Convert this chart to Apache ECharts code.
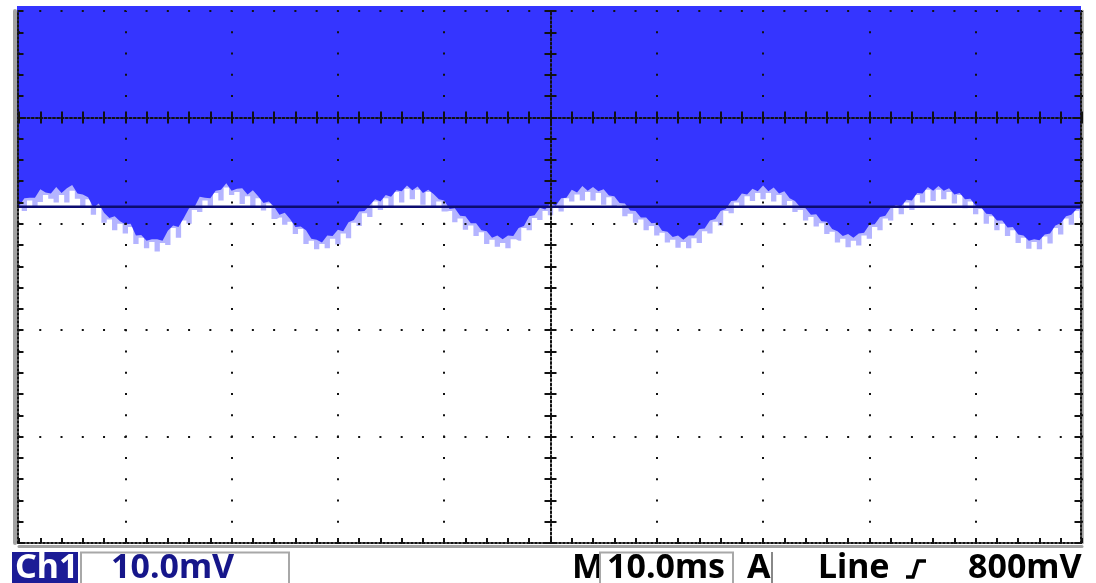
<!DOCTYPE html>
<html>
<head>
<meta charset="utf-8">
<script src="https://cdn.jsdelivr.net/npm/echarts@6/dist/echarts.min.js"></script>
<style>
  html, body { margin: 0; padding: 0; background: #ffffff; }
  #scope { width: 1096px; height: 583px; }
</style>
</head>
<body>
<div id="scope"></div>
<script>
// Acquisition time base: samples every 0.5 ms, trigger at t = 0 (screen centre)
const sampleStartMs = -50.5;
const sampleStepMs = 0.5;

// Lower edge of the dense (solid) part of the noise band, mV
const envelopeMv = [
  -8.2, -8.35, -7.6, -7.55, -7.55, -6.75, -7.05, -7.15, -6.55, -7.1,
  -6.65, -6.35, -7.15, -7.25, -7.5, -8.5, -8.1, -8.95, -9.45, -9.3,
  -9.75, -10.05, -10.0, -11.1, -11.05, -11.6, -11.45, -11.45, -11.6, -10.65,
  -10.15, -10.3, -9.45, -8.55, -8.45, -7.45, -7.55, -7.6, -6.9, -6.8,
  -6.2, -6.9, -6.7, -6.65, -7.25, -6.85, -7.4, -8.05, -7.9, -8.4,
  -9.15, -8.95, -9.55, -10.3, -10.25, -10.6, -11.4, -11.5, -11.75, -11.1,
  -11.15, -10.55, -10.7, -9.85, -9.65, -8.85, -8.8, -8.25, -7.7, -7.9,
  -7.3, -7.45, -6.85, -6.95, -6.4, -6.85, -6.5, -7.1, -6.8, -7.2,
  -7.7, -7.8, -8.6, -8.55, -9.25, -9.3, -9.95, -9.95, -10.6, -10.7,
  -11.3, -11.1, -11.45, -11.1, -11.15, -10.4, -10.2, -9.3, -9.2, -8.5,
  -8.65, -8.1, -8.3, -7.6, -7.55, -6.8, -7.05, -6.45, -6.9, -6.55,
  -6.95, -6.75, -7.35, -7.4, -8.05, -8.1, -8.75, -8.8, -9.4, -9.4,
  -9.95, -9.9, -10.65, -10.75, -11.25, -11.1, -11.5, -11.1, -11.1, -10.5,
  -10.45, -9.7, -9.55, -8.8, -8.6, -7.85, -7.8, -7.15, -7.25, -6.7,
  -6.95, -6.4, -6.95, -6.6, -7.15, -6.95, -7.6, -7.85, -8.45, -8.55,
  -9.15, -9.1, -9.75, -9.8, -10.5, -10.7, -11.15, -10.95, -11.3, -10.9,
  -10.85, -10.1, -10.05, -9.35, -9.25, -8.5, -8.25, -8.35, -7.75, -7.8,
  -7.1, -7.15, -6.55, -6.9, -6.45, -6.9, -6.65, -7.25, -7.1, -7.7,
  -7.65, -8.3, -8.45, -9.05, -9.1, -9.7, -9.7, -10.35, -10.3, -11.0,
  -11.1, -11.6, -11.45, -11.55, -11.0, -10.9, -10.15, -9.95, -9.3, -9.15,
  -8.6, -8.65, -8.4
];

// Lowest excursions of the sparse noise spikes, mV
const fuzzMv = [
  -9.0, -8.5, -8.8, -7.8, -8.5, -7.95, -7.3, -7.65, -8.0, -7.3,
  -8.0, -6.9, -7.65, -8.5, -7.7, -9.15, -8.4, -9.9, -9.6, -10.6,
  -10.0, -10.9, -10.3, -11.9, -11.3, -12.3, -11.7, -12.6, -11.8, -12.0,
  -10.4, -11.3, -9.7, -10.0, -8.7, -8.9, -7.8, -8.3, -7.1, -7.8,
  -6.6, -7.3, -7.0, -8.15, -7.4, -8.45, -7.6, -8.75, -8.1, -9.55,
  -9.4, -10.1, -9.8, -10.95, -10.5, -11.9, -11.6, -12.4, -11.9, -12.3,
  -11.4, -11.95, -10.9, -11.35, -9.9, -10.2, -9.0, -9.35, -7.9, -8.7,
  -7.6, -8.45, -7.0, -8.0, -6.7, -7.7, -6.8, -8.2, -7.0, -8.4,
  -7.9, -8.85, -8.8, -9.85, -9.5, -10.55, -10.15, -11.15, -10.8, -11.9,
  -11.5, -12.15, -11.8, -12.3, -11.45, -11.6, -10.4, -10.6, -9.45, -9.65,
  -8.8, -9.2, -8.35, -8.85, -7.6, -7.9, -7.25, -7.8, -7.0, -7.8,
  -7.1, -8.2, -7.5, -8.5, -8.25, -9.3, -9.05, -9.9, -9.6, -10.6,
  -10.2, -11.1, -10.85, -11.75, -11.5, -12.25, -11.7, -12.3, -11.35, -11.8,
  -10.7, -10.9, -9.8, -10.15, -8.8, -9.0, -8.0, -8.3, -7.4, -7.85,
  -7.1, -7.7, -7.1, -7.9, -7.3, -8.25, -7.85, -8.9, -8.7, -9.7,
  -9.35, -10.25, -9.95, -10.95, -10.75, -11.75, -11.4, -12.2, -11.6, -12.05,
  -11.1, -11.4, -10.3, -10.6, -9.5, -9.7, -8.5, -9.1, -8.0, -8.7,
  -7.3, -8.0, -6.8, -7.85, -6.8, -7.7, -7.0, -8.1, -7.3, -8.55,
  -7.9, -9.1, -8.6, -10.0, -9.3, -10.6, -10.0, -11.15, -10.6, -11.8,
  -11.3, -12.35, -11.7, -12.4, -11.2, -11.85, -10.4, -11.0, -9.5, -10.1,
  -8.8, -9.45, -8.6
];

// Average trace level across the screen, mV
const meanLevelMv = [-8.4];

// Screen extent: 10 horizontal divisions of 10 ms, 5 vertical divisions of 10 mV
const timeRangeMs = [-50, 50];
const voltRangeMv = [-40, 10];

// Readout line
const readout = {
  channel: 'Ch1',
  voltsPerDiv: '10.0mV',
  timeMark: 'M',
  timePerDiv: '10.0ms',
  acquire: 'A',
  triggerSource: 'Line',
  triggerLevel: '800mV'
};

const toPairs = (values) => values.map((v, i) => [sampleStartMs + i * sampleStepMs, v]);

const DOT = '#111111';
const FRAME = '#a2a2a2';
const READOUT_FONT = 'bold 34px "Noto Sans"';
const noLabel = { show: false };

function readoutText(x, text, fill) {
  return {
    type: 'text', x: x, y: 568,
    style: {
      text: text, font: READOUT_FONT, fill: fill,
      textAlign: 'left', textVerticalAlign: 'middle', align: 'left', verticalAlign: 'middle'
    }
  };
}

const chart = echarts.init(document.getElementById('scope'), null, { renderer: 'canvas' });

chart.setOption({
  animation: false,
  backgroundColor: '#ffffff',
  grid: [
    // trace area (reaches the bezel)
    { left: 17, right: 15, top: 6, bottom: 40 },
    // graticule
    { left: 19, right: 14, top: 11, bottom: 40 }
  ],
  xAxis: [
    { gridIndex: 0, type: 'value', min: -50.19, max: 49.91, show: false },
    { // bottom edge + vertical graticule lines
      gridIndex: 1, type: 'value', min: timeRangeMs[0], max: timeRangeMs[1], interval: 10,
      position: 'bottom', z: 6,
      axisLine: { show: true, onZero: false, lineStyle: { color: DOT, width: 2, type: [2, 2] } },
      axisTick: { show: true, inside: true, length: 5, lineStyle: { color: DOT, width: 2 } },
      minorTick: { show: true, splitNumber: 5, length: 5, lineStyle: { color: DOT, width: 2 } },
      splitLine: { show: true, lineStyle: { color: DOT, width: 2, type: [2, 19.28], dashOffset: 1 } },
      axisLabel: noLabel
    },
    { // centre horizontal line, ticks below
      gridIndex: 1, type: 'value', min: timeRangeMs[0], max: timeRangeMs[1], interval: 2,
      position: 'bottom', z: 6,
      axisLine: { show: true, onZero: true, onZeroAxisIndex: 1, lineStyle: { color: DOT, width: 2, type: [2, 2.25] } },
      axisTick: { show: true, inside: false, length: 6, lineStyle: { color: DOT, width: 2 } },
      splitLine: { show: false }, axisLabel: noLabel
    },
    { // centre horizontal line, ticks above
      gridIndex: 1, type: 'value', min: timeRangeMs[0], max: timeRangeMs[1], interval: 2,
      position: 'top', z: 6,
      axisLine: { show: false, onZero: true, onZeroAxisIndex: 1 },
      axisTick: { show: true, inside: false, length: 6, lineStyle: { color: DOT, width: 2 } },
      splitLine: { show: false }, axisLabel: noLabel
    },
    { // bezel strip under the bottom edge
      gridIndex: 1, type: 'value', min: timeRangeMs[0], max: timeRangeMs[1],
      position: 'bottom', offset: 3, z: 5,
      axisLine: { show: true, onZero: false, lineStyle: { color: FRAME, width: 3 } },
      axisTick: { show: false }, splitLine: { show: false }, axisLabel: noLabel
    }
  ],
  yAxis: [
    { gridIndex: 0, type: 'value', min: -40, max: 10.47, show: false },
    { // left edge + horizontal graticule lines
      gridIndex: 1, type: 'value', min: voltRangeMv[0], max: voltRangeMv[1], interval: 10,
      position: 'left', offset: 1.5, z: 6,
      axisLine: { show: true, onZero: false, lineStyle: { color: DOT, width: 2, type: [2, 2] } },
      axisTick: { show: true, inside: true, length: 6, lineStyle: { color: DOT, width: 2 } },
      minorTick: { show: true, splitNumber: 5, length: 6, lineStyle: { color: DOT, width: 2 } },
      splitLine: { show: true, lineStyle: { color: DOT, width: 2, type: [2, 19.26], dashOffset: 1 } },
      axisLabel: noLabel
    },
    { // right edge
      gridIndex: 1, type: 'value', min: voltRangeMv[0], max: voltRangeMv[1], interval: 10,
      position: 'right', offset: -1.5, z: 6,
      axisLine: { show: true, onZero: false, lineStyle: { color: DOT, width: 2, type: [2, 2] } },
      axisTick: { show: true, inside: true, length: 6, lineStyle: { color: DOT, width: 2 } },
      minorTick: { show: true, splitNumber: 5, length: 6, lineStyle: { color: DOT, width: 2 } },
      splitLine: { show: false }, axisLabel: noLabel
    },
    { // centre vertical line, ticks to the left
      gridIndex: 1, type: 'value', min: voltRangeMv[0], max: voltRangeMv[1], interval: 2,
      position: 'left', z: 6,
      axisLine: { show: true, onZero: true, onZeroAxisIndex: 1, lineStyle: { color: DOT, width: 2, type: [2, 2.26] } },
      axisTick: { show: true, inside: false, length: 6, lineStyle: { color: DOT, width: 2 } },
      splitLine: { show: false }, axisLabel: noLabel
    },
    { // centre vertical line, ticks to the right
      gridIndex: 1, type: 'value', min: voltRangeMv[0], max: voltRangeMv[1], interval: 2,
      position: 'right', z: 6,
      axisLine: { show: false, onZero: true, onZeroAxisIndex: 1 },
      axisTick: { show: true, inside: false, length: 6, lineStyle: { color: DOT, width: 2 } },
      splitLine: { show: false }, axisLabel: noLabel
    },
    { // bezel strip left
      gridIndex: 1, type: 'value', min: voltRangeMv[0], max: voltRangeMv[1],
      position: 'left', offset: 4, z: 5,
      axisLine: { show: true, onZero: false, lineStyle: { color: FRAME, width: 4 } },
      axisTick: { show: false }, splitLine: { show: false }, axisLabel: noLabel
    },
    { // bezel strip right
      gridIndex: 1, type: 'value', min: voltRangeMv[0], max: voltRangeMv[1],
      position: 'right', offset: 0.5, z: 5,
      axisLine: { show: true, onZero: false, lineStyle: { color: FRAME, width: 2.5 } },
      axisTick: { show: false }, splitLine: { show: false }, axisLabel: noLabel
    }
  ],
  series: [
    {
      name: 'spikes', type: 'line', xAxisIndex: 0, yAxisIndex: 0,
      data: toPairs(fuzzMv), symbol: 'none', silent: true, step: 'middle',
      lineStyle: { width: 0, opacity: 0 },
      areaStyle: { origin: 'end', color: '#b4b4ff', opacity: 1 }
    },
    {
      name: 'band', type: 'line', xAxisIndex: 0, yAxisIndex: 0,
      data: toPairs(envelopeMv), symbol: 'none', silent: true,
      lineStyle: { width: 0, opacity: 0 },
      areaStyle: { origin: 'end', color: '#3535ff', opacity: 1 }
    },
    {
      name: 'mean', type: 'line', xAxisIndex: 0, yAxisIndex: 0,
      data: [[-51, meanLevelMv[0]], [51, meanLevelMv[0]]], symbol: 'none', silent: true,
      lineStyle: { color: '#0c0c70', width: 2.5 }
    }
  ],
  graphic: [
    { type: 'rect', shape: { x: 12, y: 552, width: 66, height: 32 }, style: { fill: '#1c1c96' } },
    readoutText(15, readout.channel, '#ffffff'),
    { type: 'rect', shape: { x: 81, y: 552.5, width: 208, height: 32 }, style: { fill: '#ffffff', stroke: '#a8a8a8', lineWidth: 2 } },
    readoutText(111, readout.voltsPerDiv, '#16168a'),
    readoutText(572, readout.timeMark, '#000000'),
    { type: 'rect', shape: { x: 600, y: 552.5, width: 133, height: 32 }, style: { fill: 'none', stroke: '#a8a8a8', lineWidth: 2 } },
    readoutText(607, readout.timePerDiv, '#000000'),
    readoutText(747, readout.acquire, '#000000'),
    { type: 'line', shape: { x1: 772, y1: 552, x2: 772, y2: 583 }, style: { stroke: '#888888', lineWidth: 2 } },
    readoutText(818, readout.triggerSource, '#000000'),
    { type: 'polyline', shape: { points: [[906, 577], [913, 577], [918, 561], [926, 561]] }, style: { stroke: '#000000', lineWidth: 3.5, fill: null } },
    readoutText(968, readout.triggerLevel, '#000000')
  ]
});
</script>
</body>
</html>
